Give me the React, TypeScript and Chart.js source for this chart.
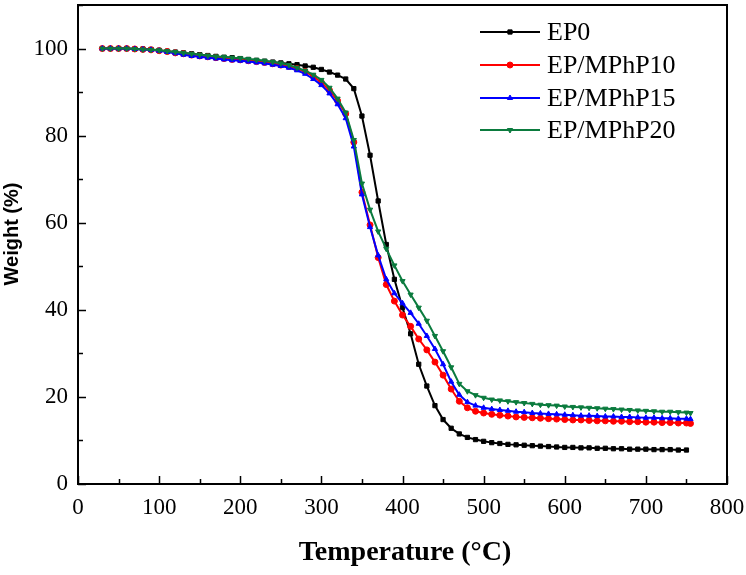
import React, { useEffect, useRef } from "react";
import { Chart, registerables } from "chart.js";
import { drawPoint } from "chart.js/helpers";

Chart.register(...registerables);

const temps = [
  30, 40, 50, 60, 70, 80, 90, 100, 110, 120, 130, 140, 150, 160, 170, 180, 190, 200,
  210, 220, 230, 240, 250, 260, 270, 280, 290, 300, 310, 320, 330, 340, 350, 360, 370,
  380, 390, 400, 410, 420, 430, 440, 450, 460, 470, 480, 490, 500, 510, 520, 530, 540,
  550, 560, 570, 580, 590, 600, 610, 620, 630, 640, 650, 660, 670, 680, 690, 700, 710,
  720, 730, 740, 750,
];
const tempsExt = [...temps, 755];

const ep0 = [
  100.0, 100.0, 100.0, 100.0, 99.9, 99.9, 99.8, 99.6, 99.4, 99.2, 99.0, 98.8, 98.6, 98.4,
  98.2, 98.0, 97.9, 97.7, 97.5, 97.3, 97.1, 96.9, 96.7, 96.5, 96.3, 96.0, 95.7, 95.2, 94.6,
  93.9, 93.0, 90.8, 84.5, 75.5, 65.0, 55.0, 47.0, 40.5, 34.5, 27.5, 22.5, 18.0, 14.8, 12.8,
  11.5, 10.7, 10.2, 9.8, 9.5, 9.3, 9.1, 9.0, 8.9, 8.8, 8.7, 8.6, 8.5, 8.4, 8.4, 8.3, 8.3,
  8.2, 8.2, 8.1, 8.1, 8.0, 8.0, 8.0, 7.9, 7.9, 7.9, 7.8, 7.8,
];
const mphp10 = [
  100.0, 100.0, 100.0, 100.0, 99.9, 99.8, 99.7, 99.5, 99.3, 99.0, 98.8, 98.5, 98.3, 98.1,
  97.9, 97.7, 97.5, 97.4, 97.2, 97.0, 96.8, 96.5, 96.2, 95.9, 95.4, 94.7, 93.6, 92.2, 90.4,
  88.0, 85.0, 78.5, 67.0, 59.5, 52.0, 45.8, 42.0, 38.8, 36.2, 33.3, 30.8, 28.0, 25.0, 21.8,
  19.0, 17.5, 16.7, 16.3, 16.0, 15.8, 15.6, 15.4, 15.3, 15.2, 15.1, 15.0, 14.9, 14.8, 14.7,
  14.7, 14.6, 14.5, 14.5, 14.4, 14.4, 14.3, 14.3, 14.2, 14.2, 14.1, 14.1, 14.0, 14.0, 13.9,
];
const mphp15 = [
  100.0, 100.0, 100.0, 100.0, 99.9, 99.8, 99.7, 99.5, 99.2, 98.9, 98.6, 98.3, 98.1, 97.9,
  97.7, 97.5, 97.3, 97.2, 97.0, 96.8, 96.6, 96.3, 96.0, 95.6, 95.0, 94.2, 93.0, 91.6, 89.7,
  87.2, 84.0, 77.5, 66.5, 59.0, 52.5, 47.0, 43.8, 41.5, 39.3, 36.8, 34.0, 31.0, 27.5, 23.5,
  20.5, 18.8, 18.0, 17.5, 17.2, 17.0, 16.8, 16.6, 16.5, 16.3, 16.2, 16.1, 16.0, 15.9, 15.8,
  15.7, 15.7, 15.6, 15.5, 15.5, 15.4, 15.4, 15.3, 15.2, 15.2, 15.1, 15.1, 15.0, 15.0, 14.9,
];
const mphp20 = [
  100.0, 100.0, 100.0, 100.0, 99.9, 99.8, 99.7, 99.6, 99.4, 99.2, 99.0, 98.8, 98.6, 98.4,
  98.2, 98.1, 97.9, 97.8, 97.6, 97.4, 97.2, 96.9, 96.6, 96.2, 95.6, 94.9, 94.0, 92.8, 91.0,
  88.5, 85.3, 79.0, 69.0, 63.0, 58.0, 54.0, 50.2, 46.6, 43.5, 40.5, 37.5, 34.0, 30.5, 26.8,
  23.0, 21.3, 20.4, 19.8, 19.4, 19.2, 19.0, 18.8, 18.6, 18.4, 18.2, 18.1, 18.0, 17.8, 17.7,
  17.6, 17.5, 17.4, 17.3, 17.2, 17.1, 17.0, 16.9, 16.8, 16.7, 16.6, 16.6, 16.5, 16.4, 16.3,
];

const seriesNames = ["EP0", "EP/MPhP10", "EP/MPhP15", "EP/MPhP20"];
const seriesColors = ["#000000", "#ff0000", "#0000ff", "#0b7b3e"];
const seriesMarkers = ["rect", "circle", "triangle", "triangle"];
const seriesRotation = [0, 0, 0, 180];
const xTicks = [0, 100, 200, 300, 400, 500, 600, 700, 800];
const yTicks = [0, 20, 40, 60, 80, 100];
const xTitle = "Temperature (\u00B0C)";
const yTitle = "Weight (%)";

const toPoints = (xs: number[], ys: number[]) => ys.map((v, i) => ({ x: xs[i], y: v }));

const decor = {
  id: "decor",
  afterDatasetsDraw(chart: any) {
    const { ctx, chartArea: ca, scales } = chart;
    const x = scales.x;
    const y = scales.y;
    ctx.save();
    ctx.strokeStyle = "#000";
    ctx.lineWidth = 1.5;
    ctx.beginPath();
    for (let v = 0; v <= 800; v += 50) {
      const px = Math.round(x.getPixelForValue(v)) + 0.5;
      const len = v % 100 === 0 ? 8 : 5;
      ctx.moveTo(px, ca.bottom);
      ctx.lineTo(px, ca.bottom - len);
    }
    for (let v = 0; v <= 110; v += 10) {
      const py = Math.round(y.getPixelForValue(v)) + 0.5;
      const len = v % 20 === 0 ? 8 : 5;
      ctx.moveTo(ca.left, py);
      ctx.lineTo(ca.left + len, py);
    }
    ctx.stroke();
    ctx.lineWidth = 2;
    ctx.strokeRect(ca.left, ca.top, ca.right - ca.left, ca.bottom - ca.top);

    const rows = [32, 65, 98, 130];
    chart.data.datasets.forEach((ds: any, i: number) => {
      const ry = rows[i];
      ctx.strokeStyle = ds.borderColor;
      ctx.lineWidth = 2;
      ctx.beginPath();
      ctx.moveTo(480, ry);
      ctx.lineTo(540, ry);
      ctx.stroke();
      ctx.fillStyle = ds.borderColor;
      ctx.strokeStyle = ds.borderColor;
      ctx.lineWidth = 1;
      drawPoint(
        ctx,
        { pointStyle: ds.pointStyle, rotation: ds.pointRotation, radius: 3, borderWidth: 1 } as any,
        510,
        ry
      );
      ctx.fillStyle = "#000";
      ctx.font = "26px 'Liberation Serif'";
      ctx.textAlign = "left";
      ctx.textBaseline = "middle";
      ctx.fillText(ds.label, 547, ry + 1);
    });

    ctx.fillStyle = "#000";
    ctx.textAlign = "center";
    ctx.textBaseline = "middle";
    ctx.font = "bold 28px 'Liberation Serif'";
    ctx.fillText(xTitle, 405, 553);
    ctx.save();
    ctx.translate(12, 234);
    ctx.rotate(-Math.PI / 2);
    ctx.font = "bold 20px 'Liberation Sans'";
    ctx.fillText(yTitle, 0, 0);
    ctx.restore();
    ctx.restore();
  },
};

export default function App() {
  const ref = useRef<HTMLCanvasElement | null>(null);
  useEffect(() => {
    if (!ref.current) return;
    const datasets = [ep0, mphp10, mphp15, mphp20].map((vals, i) => ({
      label: seriesNames[i],
      data: toPoints(i === 0 ? temps : tempsExt, vals),
      borderColor: seriesColors[i],
      backgroundColor: seriesColors[i],
      borderWidth: 2,
      pointStyle: seriesMarkers[i],
      pointRotation: seriesRotation[i],
      pointRadius: 3,
      pointBorderWidth: 1,
      tension: 0,
      order: 3 - i,
    }));
    const chart = new Chart(ref.current, {
      type: "line",
      data: { datasets },
      options: {
        animation: false,
        responsive: false,
        maintainAspectRatio: false,
        layout: { padding: { top: 2, right: 19, left: 0, bottom: 0 } },
        plugins: { legend: { display: false }, tooltip: { enabled: false } },
        scales: {
          x: {
            type: "linear",
            min: 0,
            max: 800,
            grid: { display: false, drawTicks: false },
            border: { display: false },
            afterBuildTicks: (s: any) => {
              s.ticks = xTicks.map((v) => ({ value: v }));
            },
            ticks: {
              font: { family: "'Liberation Serif'", size: 23 },
              color: "#000",
              padding: 10,
              maxRotation: 0,
              autoSkip: false,
            },
            afterFit: (s: any) => {
              s.height = 91;
              s.paddingLeft = 0;
              s.paddingRight = 0;
              s.paddingTop = 0;
              s.paddingBottom = 0;
            },
          },
          y: {
            type: "linear",
            min: 0,
            max: 110,
            grid: { display: false, drawTicks: false },
            border: { display: false },
            afterBuildTicks: (s: any) => {
              s.ticks = yTicks.map((v) => ({ value: v }));
            },
            ticks: {
              font: { family: "'Liberation Serif'", size: 23 },
              color: "#000",
              padding: 10,
              autoSkip: false,
            },
            afterFit: (s: any) => {
              s.width = 78;
              s.paddingLeft = 0;
              s.paddingRight = 0;
              s.paddingTop = 0;
              s.paddingBottom = 0;
            },
          },
        },
      } as any,
      plugins: [decor],
    });
    return () => chart.destroy();
  }, []);
  return (
    <div style={{ position: "fixed", left: 0, top: 0, width: 746, height: 575, background: "#fff" }}>
      <canvas ref={ref} width={746} height={575} style={{ width: 746, height: 575 }} />
    </div>
  );
}
